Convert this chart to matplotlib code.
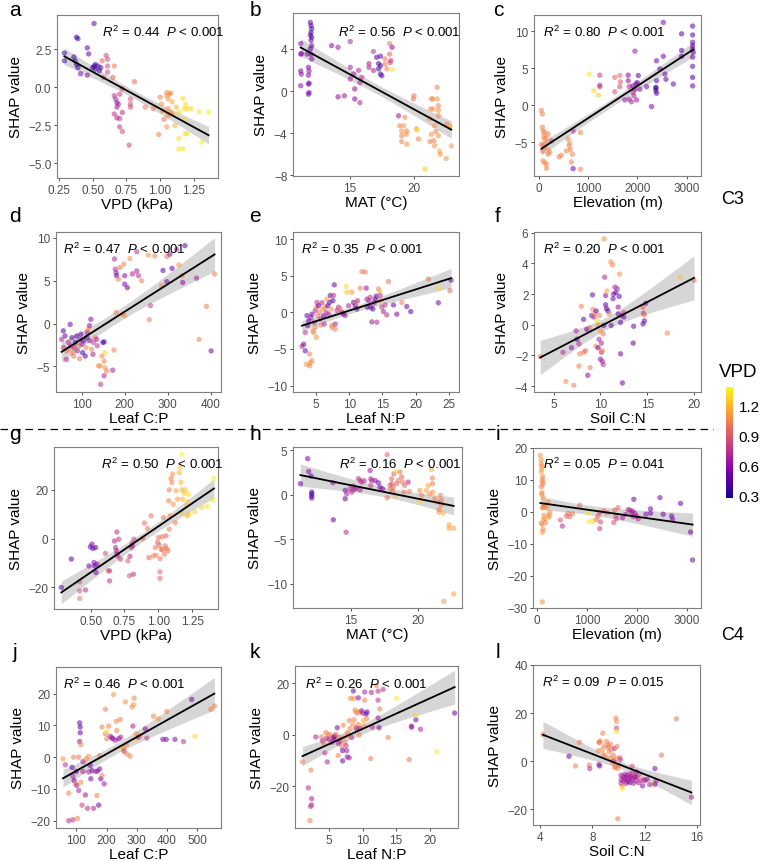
import numpy as np
import matplotlib
matplotlib.use("Agg")
import matplotlib.pyplot as plt
from matplotlib.colors import Normalize
from matplotlib.colorbar import ColorbarBase
from matplotlib.lines import Line2D

plt.rcParams['font.family'] = ['Liberation Sans', 'DejaVu Sans']
plt.rcParams['mathtext.fontset'] = 'custom'
plt.rcParams['mathtext.rm'] = 'Liberation Sans'
plt.rcParams['mathtext.it'] = 'Liberation Sans:italic'

# ---------------- data ----------------
a_x = [0.29,0.29,0.38,0.39,0.36,0.37,0.38,0.39,0.41,0.46,0.47,0.51,0.50,0.51,0.52,0.54,0.55,0.52,0.56,0.46,
       0.57,0.60,0.61,0.61,0.61,0.58,0.65,0.66,0.81,0.66,0.67,0.68,0.68,0.69,0.66,0.68,0.70,0.70,0.72,0.72,
       0.70,0.72,0.77,0.78,0.78,0.78,0.89,0.95,0.99,1.00,1.01,1.02,1.03,1.05,1.05,1.06,1.07,1.08,1.05,1.06,
       1.06,1.08,1.09,1.11,1.09,1.12,1.14,1.17,1.18,1.19,1.20,1.14,1.14,1.17,1.19,1.20,1.23,1.29,1.36,1.31,1.18]
a_y = [2.26,1.75,3.3,3.2,2.0,1.75,1.5,1.3,0.9,2.6,2.2,4.2,1.3,1.4,1.2,1.4,1.1,1.5,1.3,0.8,
       1.75,2.1,1.85,1.4,1.0,0.65,0.65,1.4,0.37,-0.55,-0.77,-1.0,-1.3,-1.1,-1.75,-2.0,-2.05,-2.6,-2.9,-1.65,
       -0.45,-0.1,-3.8,-0.77,-1.1,-1.3,-1.3,-1.4,-3.1,-0.65,-1.1,-1.55,-2.1,-0.33,-0.55,-0.77,-0.45,-0.37,-2.6,-1.4,
       -1.85,-1.65,-1.75,-2.5,-0.95,-1.3,-1.65,-0.72,-1.4,-1.1,-1.4,-3.35,-4.05,-4.05,-3.05,-3.05,-1.4,-1.6,-1.65,-3.6,-2.1]
a_v = [0.38,0.38,0.4,0.4,0.38,0.4,0.38,0.42,0.55,0.5,0.5,0.45,0.38,0.38,0.4,0.38,0.4,0.38,0.42,0.6,
       0.95,0.85,0.85,0.85,0.85,0.95,0.95,1.0,0.95,0.75,0.7,0.65,0.65,0.7,0.75,0.7,0.75,0.8,0.85,0.75,
       0.8,0.85,0.85,0.9,0.9,0.85,1.05,1.05,1.05,1.05,1.1,1.05,1.0,1.1,1.1,1.15,1.1,1.05,1.1,1.1,
       1.05,1.1,1.15,1.2,1.15,1.2,1.3,1.3,1.3,1.35,1.3,1.3,1.35,1.35,1.3,1.35,1.3,1.35,1.38,1.38,1.3]

b_x = [11.95,12.0,12.05,12.0,11.95,12.05,12.0,12.05,11.95,12.0,12.05,
       11.2,11.2,11.25,11.2,11.25,11.2,11.8,11.85,11.8,11.85,11.8,11.85,11.8,11.7,
       13.6,14.1,14.1,14.6,15.05,15.05,15.05,15.3,15.4,15.4,15.7,15.8,15.95,15.8,
       16.5,16.5,16.85,16.85,17.1,17.25,17.25,17.4,17.4,17.4,17.5,
       17.75,17.75,17.9,18.1,18.1,18.15,18.2,18.3,18.35,
       18.8,18.9,19.05,19.05,19.2,19.3,19.4,19.45,19.45,19.05,19.95,20.0,20.2,20.25,20.35,20.85,
       21.25,21.3,21.35,21.45,21.5,21.25,21.35,21.55,21.6,21.6,21.7,21.8,21.8,21.9,21.9,21.9,21.9,
       22.0,22.05,22.5,22.55,22.75,22.9,22.8]
b_y = [6.5,6.2,5.9,5.55,5.3,5.1,4.8,4.3,4.0,3.5,3.05,
       4.5,3.5,3.55,1.9,1.6,0.5,2.25,1.9,1.5,0.75,0.65,-0.15,-0.3,3.5,
       4.3,4.15,-0.55,-0.45,4.7,2.25,1.15,1.6,0.2,-0.75,1.95,-1.1,1.3,0.8,
       2.6,2.25,3.75,1.95,3.2,2.6,2.1,3.3,1.6,2.4,1.45,
       3.05,2.55,2.1,4.5,3.5,2.7,2.9,4.15,2.05,
       -2.35,-3.3,-3.8,-4.25,-3.3,-2.5,-4.1,-3.8,-5.05,-4.8,-0.75,-0.45,-3.6,-3.7,-4.55,-7.4,
       -2.65,-1.7,-0.75,-0.75,-1.7,-4.8,-4.1,-4.7,-3.3,-5.2,-3.85,0.35,-0.75,-1.4,-1.85,-2.35,-4.25,
       -5.7,-6.0,-6.4,-3.15,-3.3,-5.2,-3.45]
b_v = [0.45,0.45,0.4,0.4,0.45,0.4,0.45,0.5,0.45,0.5,0.55,
       0.6,0.6,0.55,0.55,0.6,0.6,0.55,0.6,0.6,0.5,0.55,0.5,0.55,0.55,
       0.6,0.65,0.6,0.65,0.7,0.7,0.65,0.65,0.6,0.55,0.7,0.7,0.75,0.7,
       0.7,0.7,0.75,0.7,0.45,0.45,0.4,0.45,0.4,0.4,0.45,
       1.0,1.0,1.05,1.0,0.95,0.8,0.8,0.6,1.35,
       0.65,1.05,1.1,1.05,1.1,1.05,1.1,1.05,1.1,1.05,1.0,1.0,1.05,1.35,1.05,1.25,
       1.1,1.05,1.1,1.05,1.1,1.05,1.1,1.05,1.1,1.1,1.05,1.05,1.1,1.05,1.1,1.05,1.1,
       1.15,1.1,1.1,1.05,1.15,1.1,1.2]

c_x = [48,68,68,81,115,95,150,183,48,81,115,150,183,217,81,115,150,150,183,68,251,115,
       407,455,557,591,611,625,638,659,679,693,693,842,842,
       1018,1113,1208,1236,1236,1236,1541,1541,1643,1657,1643,
       1745,1813,1813,1833,1833,1880,1901,1915,1928,1949,1949,1969,1983,1996,2017,2051,
       2186,2288,2376,2376,2376,2390,2390,2390,2458,2526,2526,2560,2580,2730,2899,2899,2899,
       3123,3123,3123,3123,3123,3123,3123,3123,3123,3137]
c_y = [-0.7,-1.2,-3.0,-3.5,-3.7,-4.2,-4.4,-3.9,-5.3,-5.5,-5.75,-5.1,-6.0,-6.4,-7.55,-7.8,-8.0,-8.55,-6.65,-6.2,-4.85,-4.6,
       -7.0,-6.8,-6.2,-4.6,-5.5,-5.15,-6.0,-7.7,-6.65,-3.5,-8.6,-3.7,-8.7,
       4.2,1.95,1.35,4.05,2.7,2.5,3.75,1.8,4.0,3.15,2.5,
       0.7,4.05,3.3,2.5,0.8,0.45,2.6,1.7,1.25,7.3,2.15,2.85,0.7,3.05,4.0,2.15,
       2.5,-0.2,2.3,1.95,2.4,1.6,6.0,3.3,4.9,6.6,11.2,4.2,3.5,2.85,9.65,7.4,6.6,
       10.7,9.5,8.5,8.05,7.6,6.5,5.25,3.75,2.6,7.15]
c_v = [1.05,1.05,1.05,1.1,1.05,1.05,1.1,1.05,1.05,1.0,1.05,1.05,1.1,1.05,1.05,1.1,1.05,1.05,1.05,1.0,0.8,1.05,
       1.05,1.05,1.05,1.05,1.05,1.1,1.05,1.05,1.05,0.75,0.5,1.05,1.05,
       1.35,1.3,1.25,0.8,0.8,0.75,0.95,0.9,0.95,0.9,0.85,
       0.6,0.55,0.6,0.7,0.65,0.7,0.6,0.75,0.7,0.65,0.65,0.55,0.65,0.5,0.45,0.6,
       0.55,0.55,0.35,0.4,0.35,0.45,0.5,0.45,0.5,0.55,0.55,0.5,0.45,0.5,0.45,0.45,0.5,
       0.45,0.45,0.45,0.5,0.45,0.5,0.45,0.4,0.5,0.45]

d_x = [57,61,69,73,74,53,57,65,64,69,77,79,81,82,85,88,90,92,95,96,98,100,102,104,108,110,112,113,115,118,
       121,118,123,126,127,131,135,136,139,143,144,147,149,152,152,154,154,158,152,172,175,
       176,178,180,181,185,189,198,200,200,206,212,218,228,228,232,239,
       180,195,200,
       255,260,257,270,289,298,305,310,321,326,333,340,335,286,298,367,373,390,409,401]
d_y = [-0.85,-1.45,-2.2,-0.1,-2.6,-1.85,-2.8,-3.2,-4.2,-3.0,-1.65,-3.4,-3.8,-2.8,-2.2,-1.45,-3.2,-2.6,-4.1,-1.85,
       -1.25,-2.4,-3.4,-2.0,-3.8,-2.8,-1.65,-1.05,-0.65,-0.25,
       0.5,-2.0,-3.0,-3.6,-2.2,-1.65,-1.85,-2.6,-4.95,-4.95,-7.1,-3.8,-2.2,-2.15,-4.4,-5.15,-3.4,-5.55,-6.1,-5.45,-3.1,
       7.55,6.35,5.95,5.6,5.2,6.55,6.95,5.6,4.6,4.2,7.6,5.8,6.15,8.4,5.6,5.0,
       1.3,1.1,0.9,
       8.0,2.1,0.45,7.9,6.2,7.85,8.1,6.45,8.65,6.85,5.6,9.1,4.8,4.4,4.9,5.3,-1.85,2.0,5.8,-3.2]
d_v = [0.45,0.5,0.75,0.55,0.7,0.7,0.75,1.0,0.7,1.05,0.45,1.05,1.0,0.7,0.4,0.45,0.7,1.05,1.0,0.7,
       0.5,0.65,0.4,0.45,0.45,1.05,0.4,0.65,1.1,0.6,
       0.6,0.65,1.05,0.7,0.75,1.0,0.7,0.75,1.05,1.1,0.75,1.05,0.5,0.4,1.05,1.1,1.3,1.05,0.7,0.7,1.05,
       0.7,0.75,0.65,0.5,1.05,1.0,1.05,0.6,0.55,0.5,1.1,0.7,0.7,0.75,0.75,1.05,
       1.05,1.0,1.1,
       1.1,0.8,1.05,1.05,0.45,1.0,0.6,0.5,0.75,1.1,1.05,0.45,0.6,1.05,0.55,0.7,1.05,1.05,1.05,0.55]

e_x = [2.9,3.15,3.4,3.4,3.65,3.75,3.9,4.05,4.15,3.55,4.05,4.4,4.25,4.4,4.55,4.65,4.75,4.9,5.05,5.15,
       5.25,4.9,5.05,5.4,5.55,5.65,5.75,5.9,6.05,6.15,6.25,6.4,6.55,6.65,6.75,6.9,7.05,7.15,7.25,7.4,
       7.4,7.55,7.65,7.75,7.9,7.9,8.15,8.4,8.65,8.9,9.15,9.4,9.55,9.65,9.9,10.4,10.65,10.9,11.05,11.15,
       11.25,11.65,11.9,12.4,12.55,12.65,12.75,12.95,13.15,13.25,13.4,13.55,13.75,13.9,14.05,14.15,14.4,14.55,14.65,14.65,
       14.9,15.15,15.4,15.65,15.9,16.65,17.15,17.9,18.65,19.25,21.9,23.4,23.4,25.15,25.3]
e_y = [-4.65,-4.35,-5.25,-2.75,-0.45,-1.8,-1.15,-5.7,-6.85,-7.1,-7.3,-6.6,-0.7,-0.25,-2.5,-2.75,-1.35,0.25,0.7,1.35,
       -0.45,-2.05,-3.4,0.9,0.0,-0.9,-1.75,1.3,0.45,-0.45,-1.6,0.7,0.0,1.8,0.9,-0.25,1.35,2.3,0.45,-2.05,
       -1.75,1.6,2.3,3.75,-1.6,-2.3,0.25,0.7,0.45,0.0,-0.25,-0.45,3.55,2.75,0.9,2.75,1.35,0.9,1.3,0.45,
       1.6,3.3,5.55,5.5,3.3,1.8,0.7,1.6,2.05,0.7,-1.3,0.45,1.3,1.8,2.2,-1.35,3.2,2.85,2.3,1.6,
       0.7,0.1,1.0,-0.35,4.2,1.0,-0.25,1.35,0.8,0.1,4.55,3.3,1.3,2.95,4.4]
e_v = [0.75,0.5,0.5,0.75,0.5,0.55,0.45,1.05,1.05,1.1,1.05,1.1,0.6,0.5,1.05,1.1,0.75,0.7,1.05,0.75,
       1.0,1.05,1.1,0.5,1.05,0.75,1.05,0.7,1.05,0.5,0.7,1.1,0.75,1.15,0.45,0.7,0.45,0.5,1.05,1.05,
       1.1,0.45,0.75,0.5,0.7,1.05,0.75,0.7,1.05,0.7,0.5,0.7,1.3,1.25,0.7,1.1,0.45,0.5,1.05,0.5,
       0.75,1.05,1.05,1.0,0.6,0.7,0.45,0.7,0.75,0.5,0.65,0.45,0.7,0.5,0.45,0.7,1.05,1.2,0.75,1.1,
       0.75,0.7,0.8,0.75,1.0,0.5,0.55,1.05,0.5,0.45,1.0,1.3,0.55,0.95,0.45]

f_x = [3.57,6.0,6.3,7.15,6.9,7.4,7.5,7.7,7.8,7.95,8.2,8.2,7.7,8.4,8.55,8.65,8.9,8.85,9.05,9.15,
       9.2,9.3,9.4,9.5,9.55,9.65,9.75,9.75,9.85,9.9,10.0,10.0,10.1,10.1,10.2,10.2,10.3,10.3,10.35,10.4,
       10.45,10.55,10.55,10.65,10.7,10.8,10.95,11.1,11.15,11.3,11.35,11.4,11.55,11.65,11.8,11.9,12.0,12.05,12.15,12.15,
       12.25,12.35,12.5,12.5,11.9,13.55,13.5,14.55,14.6,14.7,14.55,14.7,14.85,17.15,18.5,20.0]
f_y = [-2.07,-1.8,-3.7,-3.95,-1.5,-0.4,-0.95,-1.25,-1.9,1.2,0.35,-1.8,-2.7,-1.7,-0.3,-3.3,-2.8,-0.2,0.6,1.95,
       1.0,0.5,0.7,-1.4,0.9,0.25,-0.05,-1.5,-0.95,0.6,-0.4,-2.25,-1.2,-1.8,-1.7,-2.4,-2.6,-0.6,-0.05,5.6,
       3.1,1.9,1.3,1.05,2.2,0.9,0.7,4.1,-0.05,3.9,1.7,2.0,2.45,2.1,2.35,1.15,1.85,3.3,-1.9,0.15,
       0.6,-3.8,0.8,0.5,0.7,-0.1,-1.2,1.15,0.75,0.65,0.05,0.25,1.4,-0.55,3.1,2.9]
f_v = [1.05,0.75,1.1,1.05,0.6,0.7,0.5,0.75,1.05,1.05,0.5,1.05,1.05,0.95,0.5,0.6,1.05,1.0,0.6,0.5,
       1.05,0.7,1.05,1.1,0.45,1.3,1.05,0.5,0.7,1.05,1.1,0.6,0.7,0.75,1.05,0.7,0.75,1.0,0.45,1.1,
       0.7,0.6,0.45,0.5,1.15,0.45,1.05,1.1,0.5,1.05,0.5,0.55,0.7,0.45,0.7,0.6,0.45,1.1,0.55,0.45,
       0.75,0.5,0.8,0.55,0.55,0.5,0.45,0.95,0.75,1.0,0.5,0.45,0.55,1.05,1.25,0.95]

g_x = [0.284,0.358,0.42,0.42,0.42,0.463,0.488,0.498,0.51,0.517,0.525,0.53,0.537,0.54,0.547,0.61,0.63,0.64,0.64,0.676,
       0.684,0.69,0.694,0.694,0.70,0.708,0.72,0.775,0.787,0.79,0.80,0.806,0.81,0.816,0.82,0.885,0.897,0.92,0.93,0.946,
       0.963,0.978,0.983,0.995,1.0,1.007,1.012,1.012,1.012,1.02,1.027,1.03,1.037,1.044,1.05,1.056,1.06,1.07,1.076,1.08,
       1.08,1.086,1.093,1.1,1.105,1.11,1.125,1.13,1.142,1.154,1.16,1.167,1.174,1.174,1.18,1.19,1.2,1.21,1.215,1.223,
       1.223,1.27,1.32,1.36,1.4,1.41,1.21,1.17]
g_y = [-20.0,-8.4,-21.4,-17.7,-24.5,-21.0,-11.2,-3.4,-2.3,-4.1,-9.8,-11.2,-3.7,-13.9,-10.5,-6.1,-13.2,-17.3,-13.2,-1.0,
       -3.7,-5.0,-6.4,2.7,-7.1,-0.3,-8.4,-9.1,-15.2,-7.3,-3.7,-1.9,-3.0,-14.6,-0.3,0.0,6.3,4.1,-7.8,9.3,
       -7.1,-3.7,-6.8,-1.6,0.4,-2.7,-8.2,-13.6,-16.3,-4.4,0.7,-4.6,8.6,-6.4,-3.0,1.1,-4.1,-5.0,15.4,19.9,
       3.8,9.3,24.5,22.9,26.3,14.0,6.5,19.5,16.1,26.9,29.0,22.9,19.9,34.4,16.1,18.5,19.9,13.3,15.0,9.9,
       18.1,10.9,12.7,13.1,15.8,24.5,9.3,10.6]
g_v = [0.45,0.45,0.9,0.9,1.0,0.75,0.55,0.5,0.55,0.5,0.55,0.5,0.45,0.55,0.6,0.85,1.0,0.75,0.75,0.7,
       0.7,0.7,0.7,0.75,0.75,0.75,0.8,0.95,0.9,0.75,0.75,0.8,0.7,0.75,0.8,0.95,1.0,1.0,0.95,1.0,
       1.05,1.0,1.05,0.95,1.0,0.95,1.0,0.95,0.95,1.0,1.0,1.0,1.0,1.0,1.0,0.95,1.0,1.0,1.05,1.05,
       1.05,1.1,1.05,1.05,1.1,1.1,1.05,1.15,1.15,1.2,1.25,1.2,1.2,1.38,1.2,1.25,1.25,1.25,1.25,1.25,
       1.3,1.3,1.3,1.35,1.35,1.38,1.25,1.25]

h_x = [11.26,11.8,11.87,12.05,12.1,12.1,12.1,12.1,13.7,13.67,14.58,14.58,14.65,14.7,14.95,15.07,15.15,15.25,15.4,15.57,
       15.69,15.69,15.81,15.99,16.43,16.48,16.48,16.55,16.8,17.04,17.17,17.36,17.7,17.7,17.9,17.96,18.03,18.03,18.1,18.15,
       18.2,18.28,18.35,18.4,18.52,18.65,18.77,18.84,18.94,19.0,19.26,19.34,20.12,20.17,20.25,20.6,20.74,20.86,20.98,21.06,
       21.06,21.1,21.23,21.48,21.55,21.55,21.65,21.72,21.85,21.72,22.29,22.29,22.63,21.9,22.63]
h_y = [1.24,4.05,2.62,2.1,0.3,0.1,-0.15,-0.37,-2.8,1.35,0.49,-0.45,-4.2,0.1,0.67,0.3,0.97,0.6,0.75,1.8,
       1.6,0.56,1.42,1.57,2.73,1.8,1.05,1.6,1.6,1.35,0.86,0.67,4.5,-0.34,1.05,0.67,1.8,1.24,0.37,0.86,
       2.36,-0.07,2.62,1.24,1.6,2.55,1.98,1.42,0.3,1.05,1.42,0.37,0.49,-0.75,-0.07,0.49,1.05,0.1,2.85,1.87,
       1.24,0.3,-0.45,-0.82,-1.65,-1.95,-0.07,-1.12,-2.06,-0.64,-3.37,-3.75,-3.75,-11.95,-11.12]
h_v = [0.5,0.55,0.6,0.5,0.4,0.4,0.4,0.5,0.5,0.6,0.55,0.5,0.7,0.7,0.75,0.7,0.75,0.7,0.65,0.75,
       0.8,0.7,0.75,0.7,0.65,0.75,0.8,0.7,0.6,0.55,0.5,0.55,0.95,1.0,0.95,1.0,0.95,0.9,1.0,0.95,
       0.9,1.25,1.35,0.95,1.0,1.0,0.95,1.0,1.0,0.95,0.7,1.05,1.1,1.3,1.05,1.15,1.15,1.1,1.2,1.05,
       1.0,1.1,1.05,1.0,1.05,1.1,1.05,1.05,1.2,1.0,1.15,1.15,1.15,1.1,1.15]

i_x = [67,87,107,87,87,107,121,107,134,87,107,121,107,134,154,174,201,221,241,254,241,107,154,
       95,115,128,100,140,80,110,95,
       469,509,589,623,656,710,857,1025,1045,1125,1192,1226,1259,1259,1273,1340,1407,1540,1560,1581,1628,1594,
       1715,1782,1829,1862,1895,1916,1929,1942,1963,1996,2030,2184,2277,2277,2465,2532,2700,2719,2880,3081,3121]
i_y = [17.7,16.25,14.4,12.5,7.9,9.4,8.65,1.35,1.67,-3.5,-3.9,-5.45,-6.3,-2.3,-2.1,-3.3,1.35,3.1,-1.0,-0.2,-1.55,-28.1,2.1,
       13.5,11.0,4.5,6.0,-1.0,15.0,10.0,5.5,
       -2.5,-4.4,-1.25,-0.4,-1.45,-0.5,2.1,-0.4,-3.0,-2.8,-2.3,-1.25,-0.2,-5.2,-3.1,0.3,-0.2,-3.3,0.6,-1.25,1.35,-2.1,
       -1.8,-0.7,0.8,0.6,-0.2,0.3,-1.45,3.95,-0.4,-1.25,-2.1,-0.7,1.0,-0.4,4.5,-0.7,-1.25,-2.3,2.7,-6.25,-15.0]
i_v = [1.1,1.1,1.1,1.15,1.05,1.1,1.05,1.1,1.05,1.05,1.1,1.05,1.1,1.1,1.15,1.05,1.1,1.1,1.05,1.1,1.1,1.1,1.05,
       1.1,1.05,1.1,1.05,1.1,1.1,1.05,1.1,
       0.9,0.75,0.95,1.0,0.95,1.0,0.95,1.35,1.35,1.3,1.0,0.95,0.9,0.8,0.85,0.95,1.0,0.85,0.95,0.9,0.95,0.85,
       0.65,0.7,0.75,0.7,0.7,0.65,0.75,0.5,0.7,0.65,0.7,0.6,0.55,0.55,0.55,0.55,0.5,0.55,0.5,0.55,0.5]

j_x = [56,64,75,75,89,89,86,91,93,97,100,102,104,108,108,111,111,113,113,115,115,119,122,122,130,133,137,141,141,146,
       148,152,157,163,168,170,174,177,177,181,185,185,192,196,196,201,201,207,212,218,221,223,229,232,234,240,245,247,250,256,
       258,262,265,267,278,284,287,289,291,295,298,305,311,328,333,355,371,399,386,397,426,454,481,492,544,556]
j_y = [-0.5,-2.4,-11.3,-20.0,-6.0,-19.7,-3.2,0.0,-7.4,-8.4,-4.5,-8.9,-19.3,0.0,-10.5,10.8,4.95,7.7,9.5,3.9,-7.9,-15.1,-1.4,-4.5,-11.9,-0.5,-16.1,0.3,-4.7,-2.6,
       -6.8,-4.2,-16.1,-4.5,-12.1,-4.4,-15.1,-3.7,0.5,-6.8,9.5,-5.8,-8.4,15.1,7.4,5.8,8.1,9.8,6.6,6.1,5.8,19.7,5.3,11.3,8.4,5.8,11.9,6.3,2.8,2.6,
       1.8,17.4,3.9,1.05,0.3,15.8,9.8,16.5,18.6,5.8,7.4,6.3,6.8,8.9,6.0,12.9,12.1,14.4,5.6,5.6,5.6,4.9,18.2,6.6,15.1,16.1]
j_v = [1.1,0.75,1.05,0.75,0.7,0.75,0.5,1.05,0.5,1.05,0.5,0.7,1.05,1.0,0.7,0.5,0.65,0.5,0.45,1.05,1.05,0.8,0.65,0.7,0.65,1.05,0.75,1.1,0.7,0.5,
       0.55,0.5,0.7,0.7,1.05,0.6,0.5,0.55,1.05,0.5,1.05,1.05,0.65,1.05,1.05,1.0,1.35,1.05,0.7,0.65,0.6,1.1,0.7,1.05,1.05,0.55,1.05,0.7,1.3,1.0,
       0.8,1.1,1.05,1.05,1.05,1.1,0.7,1.1,1.05,1.3,1.1,0.65,1.05,0.6,0.8,1.05,1.1,1.05,0.55,0.55,0.6,0.75,0.55,1.3,1.05,1.05]

k_x = [1.0,1.87,2.2,2.36,2.36,2.1,2.26,3.0,3.85,4.0,4.2,4.5,4.6,4.35,4.7,4.85,5.0,5.1,5.35,5.5,
       5.7,5.7,5.85,6.0,6.2,6.35,6.35,6.5,6.6,6.85,7.0,7.0,7.1,7.2,7.35,7.5,7.6,7.7,7.7,7.85,
       8.0,8.0,8.1,8.2,8.35,8.5,8.6,8.7,8.7,8.85,9.0,9.0,9.1,9.2,9.35,9.35,9.5,9.5,9.6,9.85,
       10.0,10.1,10.2,10.3,10.3,10.5,10.6,10.65,11.2,11.3,11.45,12.05,12.3,12.3,12.3,12.45,12.55,13.05,13.8,15.05,
       16.95,17.3,17.3,17.95,17.95,18.65,21.1,23.75]
k_y = [-10.5,-20.6,-27.8,-24.8,-27.2,-33.3,-13.7,-0.8,-0.8,-2.3,-3.5,0.9,-1.3,-7.0,-10.5,0.25,-1.6,0.0,-2.9,-1.0,
       -0.8,-2.0,-0.4,0.25,2.8,-8.0,-3.3,-1.0,-2.5,-4.55,-6.1,-10.1,3.8,-1.0,-2.9,-4.2,-6.1,0.9,-8.6,-0.4,
       -8.9,5.6,2.5,14.2,-1.0,4.05,17.1,14.2,5.9,9.7,8.9,2.8,2.5,8.5,14.4,4.05,8.9,0.0,2.5,9.4,
       8.5,5.6,3.4,13.5,16.7,8.1,6.3,8.9,-9.2,16.5,3.0,19.2,17.0,13.5,6.6,2.8,10.1,17.7,-1.0,14.2,
       -9.6,3.4,3.0,5.9,7.6,2.2,-6.5,8.5]
k_v = [1.05,0.75,0.75,0.7,0.75,1.05,1.05,0.7,1.05,0.7,1.05,1.05,0.7,0.75,0.7,1.1,0.7,1.05,0.7,1.05,
       0.55,0.6,0.5,1.05,0.55,1.05,0.7,1.0,0.75,1.05,0.5,0.5,1.05,1.1,1.05,0.75,0.65,1.05,0.6,1.1,
       0.7,1.05,1.05,1.05,0.75,1.1,0.5,1.1,1.05,1.1,1.05,1.0,0.75,1.1,0.6,1.05,1.05,1.05,0.7,0.65,
       0.7,1.2,1.1,1.05,0.7,0.5,1.05,0.45,1.05,0.7,0.75,1.05,0.75,0.75,0.65,0.55,1.05,0.75,1.05,1.35,
       1.0,0.6,0.65,0.5,1.3,0.7,1.35,0.5]

l_x = [4.2,6.2,6.7,7.0,7.75,7.8,8.45,8.5,8.55,8.5,8.55,8.8,8.85,9.0,9.1,9.2,9.3,9.4,9.45,9.55,
       9.6,9.65,9.7,9.7,9.8,9.8,9.85,9.85,9.85,9.85,9.9,9.95,9.95,10.05,10.1,10.15,10.2,10.2,10.2,10.3,
       10.3,10.35,10.4,10.5,10.55,10.6,10.65,10.75,10.8,10.85,10.9,10.95,11.05,11.05,11.1,11.15,11.25,11.35,11.4,11.45,
       11.6,11.85,11.95,12.05,12.55,12.8,12.8,12.9,13.3,14.45,15.6,
       8.6,8.9,9.2,9.4,8.75,10.45,10.7,11.0,11.3,11.55,11.75,12.2,12.4]
l_y = [11.0,2.0,-2.0,7.8,-1.7,-3.1,4.3,7.8,7.8,-1.3,-2.0,11.6,2.9,2.0,8.1,6.7,3.9,1.5,5.0,-0.8,
       2.5,0.1,5.3,-2.65,17.9,-2.2,16.5,13.7,12.3,1.1,6.1,-3.1,-24.0,-1.7,1.5,0.6,-5.9,-7.8,-9.2,-10.3,
       -11.4,-6.4,-8.2,-5.4,-7.3,-9.2,-6.1,-7.8,-5.4,-6.8,-8.9,-6.4,-5.0,-2.2,-7.5,-9.2,-6.1,-8.2,-4.5,-6.8,
       -5.4,-10.3,-7.8,-8.2,-9.6,-3.1,-9.6,-8.2,2.5,17.6,-15.0,
       8.3,6.2,5.6,7.0,4.7,-7.0,-8.6,-7.2,-6.6,-9.0,-8.0,-7.6,-9.8]
l_v = [1.05,0.5,1.05,1.05,1.0,0.75,1.05,1.0,1.05,0.75,0.5,1.05,1.1,1.05,1.05,1.05,1.05,1.1,1.05,1.05,
       1.05,0.7,0.75,1.05,1.05,1.0,1.1,0.8,1.35,1.05,1.05,1.05,1.05,1.05,1.0,0.75,0.7,0.7,0.75,1.0,
       1.35,0.7,0.6,0.7,0.65,0.7,0.5,0.7,0.75,0.7,0.5,0.65,0.7,0.85,0.7,0.65,0.75,0.7,0.7,0.8,
       0.85,0.6,0.75,0.75,1.35,0.55,0.5,0.7,1.0,1.0,0.7,
       1.05,1.05,1.0,1.05,1.1,0.7,0.65,0.7,0.6,0.7,0.75,0.65,0.7]

panel_letters = ['a','b','c','d','e','f','g','h','i','j','k','l']
x_labels = ['VPD (kPa)','MAT (°C)','Elevation (m)','Leaf C:P','Leaf N:P','Soil C:N',
            'VPD (kPa)','MAT (°C)','Elevation (m)','Leaf C:P','Leaf N:P','Soil C:N']
r2_text = ['0.44','0.56','0.80','0.47','0.35','0.20','0.50','0.16','0.05','0.46','0.26','0.09']
p_text = ['< 0.001','< 0.001','< 0.001','< 0.001','< 0.001','< 0.001',
          '< 0.001','< 0.001','= 0.041','< 0.001','< 0.001','= 0.015']
x_ticks = [[0.25,0.5,0.75,1.0,1.25],[15,20],[0,1000,2000,3000],[100,200,300,400],[5,10,15,20,25],[5,10,15,20],
           [0.5,0.75,1.0,1.25],[15,20],[0,1000,2000,3000],[100,200,300,400,500],[5,10,15,20],[4,8,12,16]]
x_ticklabels = [['0.25','0.50','0.75','1.00','1.25'],None,None,None,None,None,
                ['0.50','0.75','1.00','1.25'],None,None,None,None,None]
y_ticks = [[2.5,0,-2.5,-5],[4,0,-4,-8],[10,5,0,-5],[10,5,0,-5],[10,5,0,-5,-10],[6,4,2,0,-2,-4],
           [20,0,-20],[5,0,-5,-10],[20,10,0,-10,-20,-30],[20,10,0,-10,-20],[20,0,-20],[40,20,0,-20]]
y_ticklabels = [['2.5','0.0','\u22122.5','\u22125.0'],None,None,None,None,None,None,None,None,None,None,None]
x_lims = [(0.235,1.43),(10.6,23.5),(-102,3293),(40,424),(1.55,26.5),(2.9,20.75),
          (0.23,1.44),(10.71,23.25),(-80,3290),(33,578),(-0.12,24.25),(3.44,16.26)]
y_lims = [(-5.96,4.76),(-8.06,7.4),(-9.6,12.2),(-8.0,10.7),(-10.87,10.96),(-4.39,6.05),
          (-28.8,37.4),(-12.7,5.36),(-30,20),(-22.3,28.4),(-36.2,26.8),(-26.6,40)]

data = [(a_x,a_y,a_v),(b_x,b_y,b_v),(c_x,c_y,c_v),(d_x,d_y,d_v),(e_x,e_y,e_v),(f_x,f_y,f_v),
        (g_x,g_y,g_v),(h_x,h_y,h_v),(i_x,i_y,i_v),(j_x,j_y,j_v),(k_x,k_y,k_v),(l_x,l_y,l_v)]

# ---------------- layout (pixels) ----------------
W, H = 762, 862
boxes = [(57,16,218,179),(293,14,459,177),(534,16,701,177),
         (56,233,221,393),(293,233,459,393),(534,233,701,393),
         (54,448,218,610),(293,448,462,609),(533,449,701,609),
         (56,668,221,829),(295,667,458,829),(533,666,700,826)]
letter_pos = [(15,10),(255,10),(498,10),(15,217),(255,217),(498,217),
              (15,435),(255,435),(498,435),(15,653),(255,653),(498,653)]
ann_pos = [(102,32),(338,32),(543,32),(63,249),(301,249),(543,249),
           (101,464),(339,464),(543,464),(63,684),(305,684),(542,682)]

fig = plt.figure(figsize=(W/100, H/100), dpi=100)
cmap = plt.get_cmap('plasma')
norm = Normalize(vmin=0.28, vmax=1.39)
tick_grey = '#4d4d4d'

for idx in range(12):
    x0, y0, x1, y1 = boxes[idx]
    ax = fig.add_axes([x0/W, 1-y1/H, (x1-x0)/W, (y1-y0)/H])
    xs, ys, vs = [np.asarray(t, float) for t in data[idx]]
    # regression with 95% CI
    n = len(xs)
    slope, inter = np.polyfit(xs, ys, 1)
    xx = np.linspace(xs.min(), xs.max(), 100)
    yy = slope*xx + inter
    resid = ys - (slope*xs + inter)
    s = np.sqrt(np.sum(resid**2)/(n-2))
    sxx = np.sum((xs-xs.mean())**2)
    se = s*np.sqrt(1/n + (xx-xs.mean())**2/sxx)
    ax.fill_between(xx, yy-1.98*se, yy+1.98*se, color='#999999', alpha=0.4, lw=0, zorder=1)
    ax.scatter(xs, ys, c=vs, cmap=cmap, norm=norm, s=15, alpha=0.55, linewidths=0, zorder=2)
    ax.plot(xx, yy, color='black', lw=1.3, zorder=3)
    ax.set_xlim(*x_lims[idx]); ax.set_ylim(*y_lims[idx])
    ax.set_xticks(x_ticks[idx]); ax.set_yticks(y_ticks[idx])
    if x_ticklabels[idx] is not None:
        ax.set_xticklabels(x_ticklabels[idx])
    if y_ticklabels[idx] is not None:
        ax.set_yticklabels(y_ticklabels[idx])
    ax.tick_params(axis='both', labelsize=8.5, colors='#333333', labelcolor=tick_grey,
                   length=2.5, width=0.6, pad=1.5)
    for sp in ax.spines.values():
        sp.set_color('#7f7f7f'); sp.set_linewidth(0.8)
    ax.set_xlabel(x_labels[idx], fontsize=11, labelpad=1)
    ax.set_ylabel('SHAP value', fontsize=11, labelpad=4)
    lx, ly = letter_pos[idx]
    fig.text(lx/W, 1-ly/H, panel_letters[idx], fontsize=15, ha='center', va='center')
    tx, ty = ann_pos[idx]
    fig.text(tx/W, 1-ty/H, r'$R^2$ = ' + r2_text[idx] + '  $P$ ' + p_text[idx],
             fontsize=9.5, ha='left', va='center')

# dashed separator
fig.add_artist(Line2D([0, 713/W], [1-430/H, 1-430/H], color='black', lw=0.9,
                      linestyle=(0, (6, 4)), transform=fig.transFigure))
fig.text(733/W, 1-200/H, 'C3', fontsize=13, ha='center', va='center')
fig.text(733/W, 1-636/H, 'C4', fontsize=13, ha='center', va='center')

# colorbar
cax = fig.add_axes([726/W, 1-499/H, 7/W, 111/H])
cb = ColorbarBase(cax, cmap=cmap, norm=norm, ticks=[0.3,0.6,0.9,1.2])
cb.outline.set_visible(False)
cb.ax.tick_params(length=0, labelsize=11, pad=4)
cb.ax.set_yticklabels(['0.3','0.6','0.9','1.2'])
fig.text(738/W, 1-373/H, 'VPD', fontsize=13.5, ha='center', va='center')

fig.savefig('out.png', dpi=100)
